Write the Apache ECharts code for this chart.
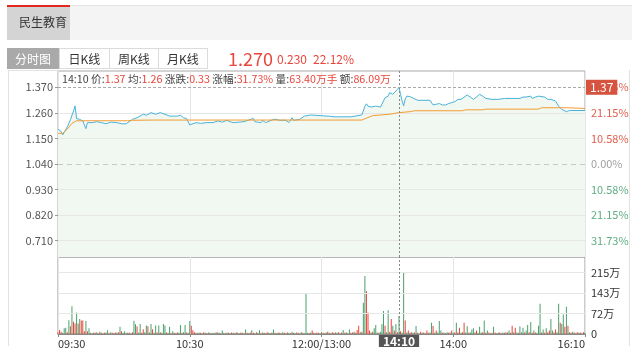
<!DOCTYPE html>
<html><head><meta charset="utf-8">
<script src="https://cdn.jsdelivr.net/npm/echarts@6/dist/echarts.min.js"></script>
<style>
html,body{margin:0;padding:0;width:640px;height:361px;background:#fff;overflow:hidden;font-family:"Noto Sans CJK SC","Noto Sans",sans-serif;}
#chart{position:absolute;left:0;top:0;width:640px;height:361px;}
.a{position:absolute;box-sizing:border-box;white-space:nowrap;}
.tab{top:48px;height:21px;border:1px solid #dcdcdc;background:#fff;color:#333;font-size:12px;line-height:19px;text-align:center;}
.r{color:#e8463a;}
</style></head><body>
<div id="chart"></div>
<div class="a" style="left:7px;top:5px;width:625px;height:35px;background:#f4f4f4;border-top:1px solid #e2e2e2;"></div>
<div class="a" style="left:7px;top:5px;width:63px;height:35px;background:#d4d4d4;border-top:2px solid #e0281e;"></div>
<div class="a" style="left:19px;top:14px;font-size:12px;line-height:16px;color:#333;">民生教育</div>
<div class="a tab" style="left:7px;width:52px;background:#a9a9a9;border-color:#a9a9a9;color:#fff;">分时图</div>
<div class="a tab" style="left:59px;width:51px;">日K线</div>
<div class="a tab" style="left:109px;width:50px;">周K线</div>
<div class="a tab" style="left:158px;width:50px;">月K线</div>
<div class="a r" style="left:228px;top:46px;font-size:18px;line-height:24px;">1.270</div>
<div class="a r" style="left:277px;top:51px;font-size:12px;line-height:16px;">0.230</div>
<div class="a r" style="left:313px;top:51px;font-size:12px;line-height:16px;">22.12%</div>
<div class="a" style="left:8px;top:70px;width:50px;height:1px;background:#e2e2e2;"></div>
<div class="a" style="left:8px;top:70px;width:1px;height:276px;background:#e2e2e2;"></div>
<div class="a" style="left:629px;top:70px;width:1px;height:276px;background:#e2e2e2;"></div>
<div class="a" style="left:62px;top:72px;font-size:10.7px;line-height:13px;color:#444;">14:10 价:<span class="r">1.37</span> 均:<span class="r">1.26</span> 涨跌:<span class="r">0.33</span> 涨幅:<span class="r">31.73%</span> 量:<span class="r">63.40万手</span> 额:<span class="r">86.09万</span></div>
<script>
// ---- data ----
const timeLabels = ['09:30','10:30','12:00/13:00','14:00','16:10'];
const sessionMinutes = 340;
const prevClose = 1.04;
const priceTicks = [0.71,0.82,0.93,1.04,1.15,1.26,1.37];
const volTicks = [0,71.67,143.33,215];
const volMax = 268.75;
const priceRange = [0.64,1.44];
const crossMinute = 220, crossTime = '14:10', crossPrice = 1.37;

const priceMin = [0,1,2,3,6,8,10,11,12,13,14,16,18,19,22,25,28,31,34,38,41,44,48,51,52,55,57,60,63,66,69,72,77,79,81,83,85,86,89,92,96,100,103,106,109,111,113,120,126,127,131,132,134,139,140,141,143,147,149,150,151,152,156,159,163,164,176,178,179,180,181,182,183,184,189,190,196,197,198,199,200,201,202,205,206,208,209,210,211,212,213,214,216,217,219,220,221,222,223,224,225,227,232,240,242,244,246,248,250,252,254,256,258,260,264,266,268,270,272,274,276,280,284,288,298,299,300,302,303,305,306,308,310,314,316,318,321,323,325,328,330,340];
const priceVal = [1.19,1.186,1.18,1.165,1.20,1.23,1.268,1.29,1.235,1.24,1.232,1.225,1.192,1.218,1.218,1.222,1.218,1.213,1.22,1.218,1.213,1.213,1.232,1.239,1.246,1.254,1.25,1.261,1.254,1.261,1.254,1.246,1.246,1.25,1.239,1.235,1.208,1.203,1.218,1.215,1.218,1.218,1.225,1.22,1.228,1.222,1.218,1.222,1.236,1.222,1.218,1.228,1.218,1.232,1.239,1.232,1.228,1.228,1.218,1.225,1.239,1.228,1.232,1.246,1.251,1.245,1.245,1.243,1.251,1.243,1.251,1.243,1.251,1.243,1.243,1.251,1.251,1.268,1.289,1.299,1.289,1.294,1.285,1.289,1.282,1.285,1.28,1.311,1.325,1.318,1.332,1.347,1.34,1.347,1.361,1.37,1.34,1.311,1.29,1.32,1.332,1.33,1.314,1.314,1.294,1.297,1.30,1.294,1.294,1.30,1.304,1.308,1.318,1.318,1.337,1.328,1.318,1.328,1.34,1.332,1.322,1.318,1.318,1.322,1.322,1.314,1.328,1.328,1.322,1.332,1.322,1.328,1.332,1.328,1.318,1.318,1.311,1.289,1.275,1.265,1.27,1.27];

const avgMin = [0,3,6,9,12,45,48,62,196,199,203,214,220,227,230,261,263,274,276,310,312,328,329,340];
const avgVal = [1.172,1.172,1.19,1.215,1.226,1.226,1.228,1.229,1.229,1.237,1.248,1.254,1.261,1.265,1.269,1.269,1.273,1.273,1.276,1.276,1.282,1.282,1.279,1.279];

const volume = [
5,14,8,4,20,22,6,48,27,97, 43,37,75,37,52,47,47,10,45,10, 20,4,3,5,4,6,3,8,4,3, 4,5,13,3,6,4,3,5,4,6,
25,10,4,10,3,5,4,3,6,46, 34,27,5,35,4,17,6,30,27,5, 35,17,4,30,5,30,6,4,35,30, 5,4,25,3,10,4,3,5,4,31,
4,6,31,5,4,45,29,13,6,4, 3,5,4,3,6,4,3,5,4,3, 4,3,6,5,4,3,12,4,3,5, 4,3,5,4,3,6,4,3,5,4,
3,16,4,3,5,13,4,3,6,4, 13,3,5,4,3,6,4,3,5,16, 4,3,5,4,3,6,4,3,5,4, 3,8,4,3,5,4,3,6,4,3,
141,4,3,5,12,4,3,5,4,3, 6,4,3,5,8,4,3,6,4,5, 4,6,3,5,14,4,6,3,16,4, 5,8,4,14,29,6,8,109,202,149,
75,12,5,8,20,31,5,4,8,35, 80,29,6,83,8,52,29,12,35,6, 63,10,5,216,47,5,12,4,6,4, 5,28,4,3,8,4,5,3,12,4,
5,39,28,4,12,5,45,12,4,5, 3,6,4,5,12,4,6,39,5,22, 4,6,39,5,27,4,6,16,20,5, 12,4,25,5,6,47,4,12,5,3,
4,25,5,3,4,6,3,5,4,6, 5,12,4,29,6,22,5,4,27,6, 22,5,12,31,6,42,4,12,5,4, 29,106,5,16,4,20,6,12,52,12,
5,16,6,106,39,35,68,25,95,29, 6,4,8,5,3,6,4,5,3,6,4];
const volDir = ['rrrgggrgrg','rrgrgrrrgr','ggrgrggrgr','rggrgrgrgr','grggrgrgrg','grggrrggrg','grggrgrggg','rggrgrgrgg',
'rggrggrrrg','rgrgrgrgrg','grgrgrggrg','rgrgrgrgrg','rgrgrgrgrg','grgrgrgrgg','rgrgrgrgrg','rgrgrgrgrg',
'ggrgrrgrgr','grgrgrgrgr','grgrgrgrgr','grgrrgrggr','rrgrgggrgg','grggrrgrgr','grggrgrgrg','rgrgrgrgrg',
'rgrgrgggrg','rgrgrgrgrr','grrggrgggr','rgggrgrgrg','rgrgrgrgrg','rgrrgrgrgg','grggrgrgrg','ggrgrgrrgg',
'rrggrggrgr','grgrgrgrgrg'].join('');

// ---- chart ----
const FONT = '"Noto Sans CJK SC","Noto Sans",sans-serif';
const RED = '#e8463a', GREEN = '#4a9f6c';
const pricePts = priceMin.map((m,i)=>[m, priceVal[i]]);
const avgPts = avgMin.map((m,i)=>[m, avgVal[i]]);
const volPts = volume.map((v,i)=>({value:[i,v], itemStyle:{color: volDir[i]==='r' ? RED : GREEN}}));
const xInterval = sessionMinutes/(timeLabels.length-1);

const chart = echarts.init(document.getElementById('chart'), null, {renderer:'canvas'});
const gridLine = {color:'#e6e6e6', width:1, type:'solid'};
chart.setOption({
  animation:false,
  textStyle:{fontFamily:FONT},
  grid:[
    {left:58, top:71, width:527, height:186, show:true, borderColor:'#a8a8a8', borderWidth:1, backgroundColor:'transparent'},
    {left:58, top:257, width:527, height:77, show:true, borderColor:'#999', borderWidth:1}
  ],
  xAxis:[
    {type:'value', gridIndex:0, min:0, max:sessionMinutes, interval:xInterval,
     axisLine:{show:false}, axisTick:{show:false}, axisLabel:{show:false},
     splitLine:{show:true, lineStyle:gridLine}},
    {type:'value', gridIndex:1, min:0, max:sessionMinutes, interval:xInterval,
     axisLine:{show:true, lineStyle:{color:'#888', width:1}},
     axisTick:{show:true, length:3, lineStyle:{color:'#888'}},
     axisLabel:{show:true, color:'#333', fontSize:11, margin:4, alignMinLabel:'left', alignMaxLabel:'right',
       formatter:(v)=>timeLabels[Math.round(v/xInterval)]},
     splitLine:{show:true, lineStyle:gridLine}}
  ],
  yAxis:[
    {type:'value', gridIndex:0, position:'left', min:priceRange[0], max:priceRange[1],
     axisLine:{show:false}, splitLine:{show:false},
     axisTick:{show:true, length:3, customValues:priceTicks, lineStyle:{color:'#999'}},
     axisLabel:{customValues:priceTicks, color:'#555', fontSize:11, margin:5, formatter:(v)=>Number(v).toFixed(3)}},
    {type:'value', gridIndex:0, position:'right', min:priceRange[0], max:priceRange[1],
     axisLine:{show:false}, splitLine:{show:false}, axisTick:{show:false},
     axisLabel:{customValues:priceTicks, fontSize:11, margin:6,
       color:(v)=>{const n=parseFloat(v); return Math.abs(n-prevClose)<1e-6 ? '#a0a0a0' : (n>prevClose ? '#e0604f' : '#5fae82');},
       formatter:(v)=>(Math.abs(v-prevClose)/prevClose*100).toFixed(2)+'%'}},
    {type:'value', gridIndex:1, position:'right', min:0, max:volMax,
     axisLine:{show:false}, splitLine:{show:false}, axisTick:{show:false},
     axisLabel:{customValues:volTicks, color:'#333', fontSize:11, margin:6,
       formatter:(v)=> v===0 ? '0' : Math.round(v)+'万'}}
  ],
  series:[
    {type:'line', xAxisIndex:0, yAxisIndex:0, data:pricePts, symbol:'none', silent:true, z:1,
     lineStyle:{width:0, opacity:0}, areaStyle:{color:'#f1f8f1', origin:'start', opacity:1},
     markLine:{silent:true, symbol:['none','none'], z:2, label:{show:false},
       data:[
         ...priceTicks.filter(v=>v!==prevClose && v!==crossPrice).map(v=>({yAxis:v, lineStyle:gridLine})),
         {yAxis:prevClose, lineStyle:{color:'#c8c8c8', type:[5,4], width:1}}
       ]}},
    {type:'line', xAxisIndex:0, yAxisIndex:0, data:pricePts, symbol:'none', silent:true, z:3,
     lineStyle:{color:'#4ab2d8', width:1}},
    {type:'line', xAxisIndex:0, yAxisIndex:0, data:avgPts, symbol:'none', silent:true, z:3,
     lineStyle:{color:'#f39b30', width:1},
     markLine:{silent:true, symbol:['none','none'], z:6,
       data:[
         {xAxis:crossMinute, lineStyle:{color:'#888', type:[2,2], width:1}, label:{show:false}},
         {yAxis:crossPrice, lineStyle:{color:'#aaa', type:[3,2], width:1},
          label:{show:true, position:'end', distance:1, formatter:()=>crossPrice.toFixed(2),
                 backgroundColor:'#d6533f', color:'#fff', fontSize:12, padding:[2,4,1,4], fontFamily:FONT}}
       ]}},
    {type:'bar', xAxisIndex:1, yAxisIndex:2, data:volPts, barWidth:1, silent:true, z:3,
     markLine:{silent:true, symbol:['none','none'], z:6,
       data:[
         ...volTicks.filter(v=>v>0).map(v=>({yAxis:v, lineStyle:gridLine, label:{show:false}})),
         {xAxis:crossMinute, lineStyle:{color:'#888', type:[2,2], width:1},
          label:{show:true, position:'start', distance:1, formatter:()=>crossTime,
                 backgroundColor:'#555', color:'#fff', fontSize:12, fontWeight:'bold', padding:[0,4,0,4], fontFamily:FONT}}
       ]}}
  ]
});
</script>
</body></html>
